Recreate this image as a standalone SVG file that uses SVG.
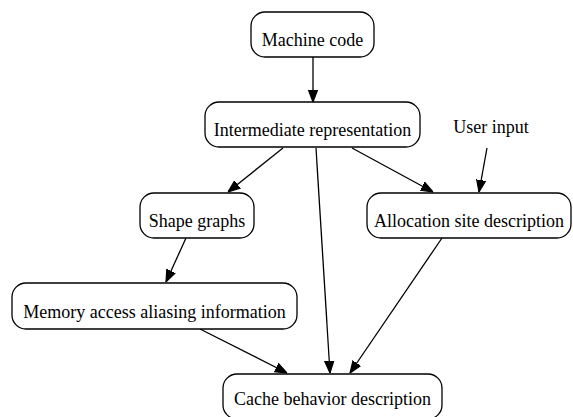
<svg xmlns="http://www.w3.org/2000/svg" width="573" height="417" viewBox="0 0 573 417">
<defs>
<style>
.n rect{fill:#fff;stroke:#000;stroke-width:1.3}
.e line{stroke:#000;stroke-width:1.3;marker-end:url(#ah)}
</style>
<marker id="ah" viewBox="0 0 10 10" refX="10" refY="5" markerWidth="12" markerHeight="12" markerUnits="userSpaceOnUse" orient="auto">
<path d="M0,1.2 L10,5 L0,8.8 Z" fill="#000" stroke="#000"/>
</marker>
</defs>
<rect width="573" height="417" fill="#fff"/>
<g class="e">
<line x1="313" y1="57" x2="313" y2="102"/>
<line x1="283" y1="148" x2="228" y2="192"/>
<line x1="316" y1="148" x2="330" y2="373"/>
<line x1="352" y1="148" x2="433" y2="192"/>
<line x1="487" y1="148" x2="479" y2="192"/>
<line x1="186" y1="238" x2="166" y2="282"/>
<line x1="200" y1="329" x2="287" y2="373"/>
<line x1="442" y1="238" x2="350" y2="373"/>
</g>
<g font-family="Liberation Serif, Times New Roman, serif" font-size="18" text-anchor="middle" fill="#000">
<g class="n" id="machine-code"><rect x="251" y="12" width="123" height="45" rx="14"/><text x="312.5" y="46">Machine code</text></g>
<g class="n" id="ir"><rect x="205" y="102" width="215" height="45" rx="14"/><text x="312.5" y="136">Intermediate representation</text></g>
<g class="n" id="user-input"><text x="491" y="133">User input</text></g>
<g class="n" id="shape-graphs"><rect x="140" y="193" width="114" height="45" rx="14"/><text x="197" y="227">Shape graphs</text></g>
<g class="n" id="alloc"><rect x="367" y="193" width="204" height="45" rx="14"/><text x="469" y="227">Allocation site description</text></g>
<g class="n" id="memory"><rect x="12" y="283" width="285" height="46" rx="14"/><text x="154.5" y="318">Memory access aliasing information</text></g>
<g class="n" id="cache"><rect x="223" y="374" width="219" height="45" rx="14"/><text x="332.5" y="405">Cache behavior description</text></g>
</g>
</svg>
